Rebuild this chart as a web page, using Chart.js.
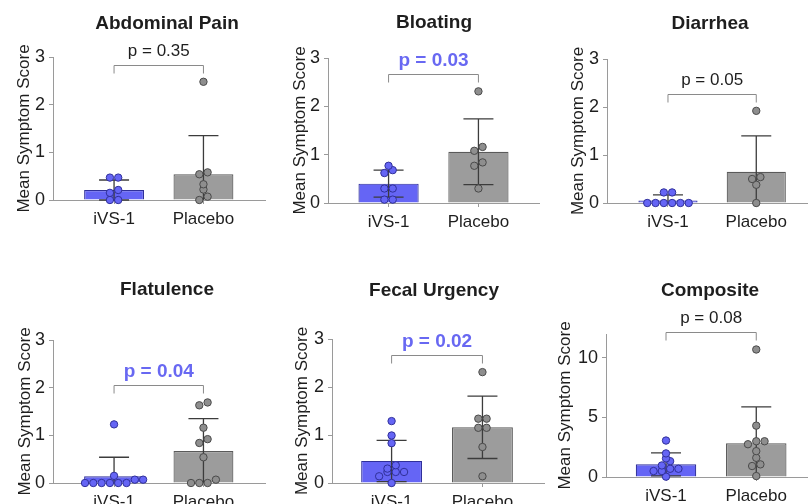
<!DOCTYPE html>
<html>
<head>
<meta charset="utf-8">
<script src="https://cdn.jsdelivr.net/npm/chart.js@4.4.0/dist/chart.umd.min.js"></script>
<style>
  html, body { margin: 0; padding: 0; background: #fff; }
  #figure { position: relative; width: 812px; height: 504px; overflow: hidden; }
  #figure canvas { position: absolute; }
</style>
</head>
<body>
<div id="figure"></div>
<script>
// Values
const panelTitles = ['Abdominal Pain', 'Bloating', 'Diarrhea', 'Flatulence', 'Fecal Urgency', 'Composite'];
const groups = ['iVS-1', 'Placebo'];
const pLabels = ['p = 0.35', 'p = 0.03', 'p = 0.05', 'p = 0.04', 'p = 0.02', 'p = 0.08'];
const pSignificant = [false, true, false, true, true, false];
const yMax = [3, 3, 3, 3, 3, 12];
const yStep = [1, 1, 1, 1, 1, 5];
const yTitle = 'Mean Symptom Score';

const ivsMean = [0.21, 0.40, 0.05, 0.14, 0.46, 1.06];
const ivsSD = [0.21, 0.28, 0.12, 0.40, 0.43, 0.97];
const placeboMean = [0.54, 1.06, 0.65, 0.67, 1.16, 2.83];
const placeboSD = [0.81, 0.68, 0.75, 0.68, 0.65, 3.06];

const ivsPoints = [
  [0.47, 0.47, 0.21, 0.15, 0, 0],
  [0.77, 0.68, 0.62, 0.30, 0.30, 0.07, 0.07],
  [0.22, 0.22, 0, 0, 0, 0, 0, 0],
  [1.23, 0.15, 0.07, 0.07, 0, 0, 0, 0, 0, 0],
  [1.29, 0.99, 0.83, 0.37, 0.30, 0.23, 0.23, 0.23, 0.14, 0],
  [3.06, 1.98, 1.56, 1.33, 0.97, 0.69, 0.69, 0.50, 0.50, 0.03]
];
const placeboPoints = [
  [2.48, 0.58, 0.54, 0.33, 0.22, 0.07, 0],
  [2.31, 1.16, 1.08, 0.84, 0.77, 0.30],
  [1.92, 0.54, 0.50, 0.38, 0],
  [1.69, 1.63, 1.16, 0.92, 0.84, 0.54, 0.07, 0, 0, 0],
  [2.31, 1.34, 1.34, 1.15, 1.15, 0.75, 0.14],
  [10.7, 4.31, 3.00, 3.00, 2.75, 2.17, 1.61, 1.06, 0.92, 0.08]
];

// Panel placement (pixels, inside each panel's own canvas)
const panels = [
  { left: 0,   top: 0,   w: 270, h: 250, axisX: 53, yTop: 57, yZero: 200, c0: 115.5, c1: 207, titleX: 167, titleY: 24, titleGap: 29 },
  { left: 270, top: 0,   w: 274, h: 250, axisX: 58, yTop: 58, yZero: 203, c0: 120,   c1: 212, titleX: 164, titleY: 23, titleGap: 28 },
  { left: 540, top: 0,   w: 272, h: 250, axisX: 67, yTop: 59, yZero: 203, c0: 129.5, c1: 220, titleX: 170, titleY: 24, titleGap: 29 },
  { left: 0,   top: 264, w: 270, h: 262, axisX: 53, yTop: 76, yZero: 219, c0: 115.5, c1: 207, titleX: 167, titleY: 26, titleGap: 28 },
  { left: 270, top: 264, w: 279, h: 262, axisX: 62, yTop: 75, yZero: 219, c0: 123,   c1: 216, titleX: 164, titleY: 27, titleGap: 30 },
  { left: 540, top: 264, w: 272, h: 262, axisX: 66, yTop: 70, yZero: 213, c0: 127.5, c1: 220, titleX: 170, titleY: 27, titleGap: 41 }
];

const FONT = "'Liberation Sans', Arial, Helvetica, sans-serif";
const TEXT = '#1e1e1e';
const AXIS = '#9a9a9a';
const BLUE = '#6565f5';
const BLUE_EDGE = '#30309a';
const GREY = '#9c9c9c';
const GREY_EDGE = '#5a5a5a';
const SIG_BLUE = '#6868f2';
const DOT_GAP = 8.5;   // px between dot centres in a row
const ROW_TOL = 4.5;   // px: values closer than this share a row
const CAP = 15;        // half width of error bar caps

Chart.defaults.font.family = FONT;
Chart.defaults.animation = false;

// Spread points sideways in rows, like a scatter dot plot
function swarm(values, pxPerY) {
  const sorted = values.slice().sort((a, b) => a - b);
  const out = [];
  let row = [];
  const flush = () => {
    row.forEach((v, k) => out.push({ y: v, dx: (k - (row.length - 1) / 2) * DOT_GAP }));
    row = [];
  };
  sorted.forEach(v => {
    if (row.length && (v - row[0]) * pxPerY >= ROW_TOL) flush();
    row.push(v);
  });
  flush();
  return out;
}

panels.forEach((p, i) => {
  const canvas = document.createElement('canvas');
  canvas.width = p.w;
  canvas.height = p.h;
  canvas.style.left = p.left + 'px';
  canvas.style.top = p.top + 'px';
  document.getElementById('figure').appendChild(canvas);

  const pxPerX = p.c1 - p.c0;
  const pxPerY = (p.yZero - p.yTop) / yMax[i];
  const xMin = -(p.c0 - p.axisX) / pxPerX;
  const xMax = xMin + (p.w - p.axisX) / pxPerX;

  const ivsDots = swarm(ivsPoints[i], pxPerY).map(d => ({ x: 0 + d.dx / pxPerX, y: d.y }));
  const plcDots = swarm(placeboPoints[i], pxPerY).map(d => ({ x: 1 + d.dx / pxPerX, y: d.y }));
  const means = [ivsMean[i], placeboMean[i]];
  const sds = [ivsSD[i], placeboSD[i]];

  const errorBars = {
    id: 'errorBars',
    afterDatasetDraw(chart, args) {
      if (args.index !== 0) return;
      const { ctx, scales: { x, y } } = chart;
      ctx.save();
      ctx.strokeStyle = '#3c3c3c';
      ctx.lineWidth = 1.3;
      means.forEach((m, g) => {
        const cx = x.getPixelForValue(g);
        const hi = y.getPixelForValue(m + sds[g]);
        const loVal = m - sds[g];
        const lo = y.getPixelForValue(Math.max(loVal, 0));
        ctx.beginPath();
        ctx.moveTo(cx, hi);
        ctx.lineTo(cx, lo);
        ctx.moveTo(cx - CAP, hi);
        ctx.lineTo(cx + CAP, hi);
        if (loVal >= 0) {
          ctx.moveTo(cx - CAP, lo);
          ctx.lineTo(cx + CAP, lo);
        }
        ctx.stroke();
      });
      ctx.restore();
    }
  };

  const annotations = {
    id: 'annotations',
    afterDraw(chart) {
      const { ctx, scales: { x, y } } = chart;
      ctx.save();
      // panel title
      ctx.fillStyle = TEXT;
      ctx.font = 'bold 19px ' + FONT;
      ctx.textAlign = 'center';
      ctx.textBaseline = 'middle';
      ctx.fillText(panelTitles[i], p.titleX, p.titleY);

      // comparison bracket above the highest dot
      const top = Math.max(...ivsPoints[i], ...placeboPoints[i]);
      const by = Math.round(y.getPixelForValue(top) - 17) + 0.5;
      const x0 = x.getPixelForValue(0);
      const x1 = x.getPixelForValue(1);
      ctx.strokeStyle = '#8a8a8a';
      ctx.lineWidth = 1;
      ctx.beginPath();
      ctx.moveTo(x0, by + 8);
      ctx.lineTo(x0, by);
      ctx.lineTo(x1, by);
      ctx.lineTo(x1, by + 8);
      ctx.stroke();

      if (pSignificant[i]) {
        ctx.fillStyle = SIG_BLUE;
        ctx.font = 'bold 19px ' + FONT;
      } else {
        ctx.fillStyle = TEXT;
        ctx.font = '17px ' + FONT;
      }
      ctx.fillText(pLabels[i], (x0 + x1) / 2, by - 14);
      ctx.restore();
    }
  };

  new Chart(canvas, {
    type: 'bar',
    data: {
      datasets: [
        {
          type: 'bar',
          data: [{ x: 0, y: ivsMean[i] }, { x: 1, y: placeboMean[i] }],
          backgroundColor: [BLUE, GREY],
          borderColor: [BLUE_EDGE, GREY_EDGE],
          borderWidth: 1.2,
          barPercentage: 1,
          categoryPercentage: 0.67,
          order: 2
        },
        {
          type: 'scatter',
          data: ivsDots,
          pointRadius: 3.7,
          pointBackgroundColor: BLUE,
          pointBorderColor: BLUE_EDGE,
          pointBorderWidth: 1,
          clip: false,
          order: 1
        },
        {
          type: 'scatter',
          data: plcDots,
          pointRadius: 3.7,
          pointBackgroundColor: '#8e8e8e',
          pointBorderColor: '#4a4a4a',
          pointBorderWidth: 1,
          clip: false,
          order: 1
        }
      ]
    },
    options: {
      responsive: false,
      animation: false,
      layout: {
        padding: {
          left: p.axisX - 53,
          top: p.yTop,
          right: 0,
          bottom: p.h - p.yZero - 30
        }
      },
      plugins: {
        legend: { display: false },
        tooltip: { enabled: false },
        title: { display: false }
      },
      scales: {
        x: {
          type: 'linear',
          min: xMin,
          max: xMax,
          offset: false,
          afterBuildTicks: s => { s.ticks = [{ value: 0 }, { value: 1 }]; },
          afterFit: s => { s.height = 30; },
          grid: { display: true, offset: false, drawOnChartArea: false, drawTicks: true, tickLength: 4, color: AXIS },
          border: { color: AXIS, width: 1 },
          ticks: {
            color: TEXT,
            font: { size: 17 },
            padding: 5,
            maxRotation: 0,
            callback: v => groups[v]
          }
        },
        y: {
          min: 0,
          max: yMax[i],
          afterBuildTicks: s => { s.ticks = s.ticks.filter(t => t.value % yStep[i] === 0); },
          afterFit: s => { s.width = 53; },
          grid: { display: true, drawOnChartArea: false, drawTicks: true, tickLength: 4, color: AXIS },
          border: { color: AXIS, width: 1 },
          ticks: { stepSize: yStep[i], color: TEXT, font: { size: 18 }, padding: 4 },
          title: {
            display: true,
            text: yTitle,
            color: TEXT,
            font: { size: 17 },
            padding: { top: 53 - p.titleGap - 10.2, bottom: 0 }
          }
        }
      }
    },
    plugins: [errorBars, annotations]
  });
});
</script>
</body>
</html>
